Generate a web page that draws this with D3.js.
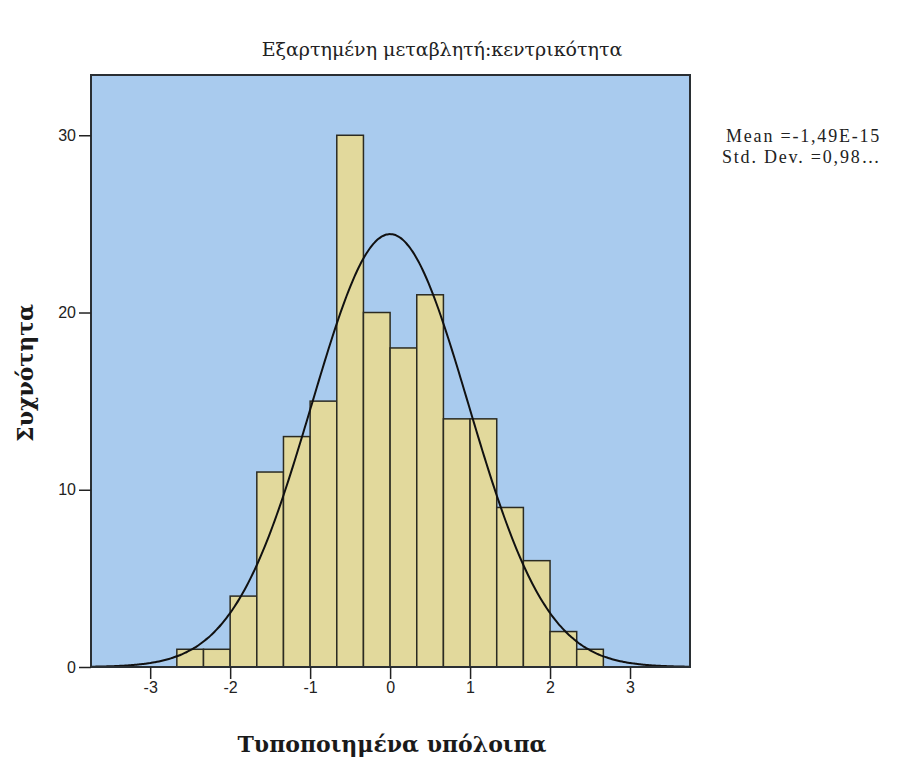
<!DOCTYPE html>
<html>
<head>
<meta charset="utf-8">
<script src="https://cdn.jsdelivr.net/npm/d3@7"></script>
<style>
  body { margin: 0; background: #fff; }
  svg { display: block; }
</style>
</head>
<body>
<svg id="chart" width="910" height="760"></svg>
<script>
// histogram bins (standardized residuals), width 1/3
const BIN_START = [-8/3, -7/3, -2, -5/3, -4/3, -1, -2/3, -1/3, 0, 1/3, 2/3, 1, 4/3, 5/3, 2, 7/3];
const BIN_WIDTH = 1 / 3;
const COUNTS = [1, 1, 4, 11, 13, 15, 30, 20, 18, 21, 14, 14, 9, 6, 2, 1];

const X_TICKS = [-3, -2, -1, 0, 1, 2, 3];
const Y_TICKS = [0, 10, 20, 30];

const MEAN = 0;
const STD_DEV = 0.98;
const N = d3.sum(COUNTS);

const TITLE = "Εξαρτημένη μεταβλητή:κεντρικότητα";
const X_LABEL = "Τυποποιημένα υπόλοιπα";
const Y_LABEL = "Συχνότητα";
const STATS = ["Mean =-1,49E-15", "Std. Dev. =0,98\u2026"];

const PLOT = { left: 91, right: 690, top: 75, bottom: 667 };
const SERIF = "'DejaVu Serif', 'Liberation Serif', serif";

const svg = d3.select("#chart");

const x = d3.scaleLinear().domain([-3.74, 3.75]).range([PLOT.left, PLOT.right]);
const y = d3.scaleLinear().domain([0, 33.4]).range([PLOT.bottom, PLOT.top]);

// plot background
svg.append("rect")
  .attr("x", PLOT.left)
  .attr("y", PLOT.top)
  .attr("width", PLOT.right - PLOT.left)
  .attr("height", PLOT.bottom - PLOT.top)
  .attr("fill", "#a9cbee");

// bars
svg.append("g")
  .selectAll("rect")
  .data(COUNTS)
  .enter()
  .append("rect")
  .attr("x", (d, i) => x(BIN_START[i]))
  .attr("y", (d) => y(d))
  .attr("width", (d, i) => x(BIN_START[i] + BIN_WIDTH) - x(BIN_START[i]))
  .attr("height", (d) => y(0) - y(d))
  .attr("fill", "#e2d99c")
  .attr("stroke", "#2b2b22")
  .attr("stroke-width", 1.5);

// normal curve scaled to counts
const normal = (v) =>
  (N * BIN_WIDTH) / (STD_DEV * Math.sqrt(2 * Math.PI)) *
  Math.exp(-0.5 * Math.pow((v - MEAN) / STD_DEV, 2));

const curvePts = d3.range(0, 301).map((k) => {
  const v = x.domain()[0] + (k / 300) * (x.domain()[1] - x.domain()[0]);
  return [v, normal(v)];
});

svg.append("path")
  .datum(curvePts)
  .attr("fill", "none")
  .attr("stroke", "#111")
  .attr("stroke-width", 2)
  .attr("d", d3.line().x((d) => x(d[0])).y((d) => y(d[1])).curve(d3.curveBasis));

// frame
svg.append("rect")
  .attr("x", PLOT.left)
  .attr("y", PLOT.top)
  .attr("width", PLOT.right - PLOT.left)
  .attr("height", PLOT.bottom - PLOT.top)
  .attr("fill", "none")
  .attr("stroke", "#2a2f33")
  .attr("stroke-width", 2);

// axes
const fmt = (d) => String(d);
const xAxis = svg.append("g")
  .attr("transform", `translate(0,${PLOT.bottom})`)
  .call(d3.axisBottom(x).tickValues(X_TICKS).tickSize(12).tickPadding(3).tickFormat(fmt));

const yAxis = svg.append("g")
  .attr("transform", `translate(${PLOT.left},0)`)
  .call(d3.axisLeft(y).tickValues(Y_TICKS).tickSize(12).tickPadding(3).tickFormat(fmt));

[xAxis, yAxis].forEach((g) => {
  g.select(".domain").remove();
  g.selectAll(".tick line").attr("stroke", "#222").attr("stroke-width", 1.5);
  g.selectAll(".tick text")
    .attr("fill", "#222")
    .style("font-family", "'Liberation Sans', Arial, sans-serif")
    .style("font-size", "16px");
});

// title
svg.append("text")
  .attr("x", 442)
  .attr("y", 56)
  .attr("text-anchor", "middle")
  .style("font-family", SERIF)
  .style("font-size", "19px")
  .attr("fill", "#222")
  .text(TITLE);

// axis titles
svg.append("text")
  .attr("x", 392)
  .attr("y", 752)
  .attr("text-anchor", "middle")
  .style("font-family", SERIF)
  .style("font-size", "22px")
  .style("font-weight", "bold")
  .attr("fill", "#1a1a1a")
  .text(X_LABEL);

svg.append("text")
  .attr("transform", "translate(33,373) rotate(-90)")
  .attr("text-anchor", "middle")
  .style("font-family", SERIF)
  .style("font-size", "22px")
  .style("font-weight", "bold")
  .attr("fill", "#1a1a1a")
  .text(Y_LABEL);

// stats
svg.append("g")
  .selectAll("text")
  .data(STATS)
  .enter()
  .append("text")
  .attr("x", (d, i) => (i === 0 ? 726 : 722))
  .attr("y", (d, i) => 142 + i * 21)
  .style("font-family", "'Liberation Serif', serif")
  .style("font-size", "18px")
  .style("letter-spacing", "1.8px")
  .attr("fill", "#222")
  .text((d) => d);
</script>
</body>
</html>
